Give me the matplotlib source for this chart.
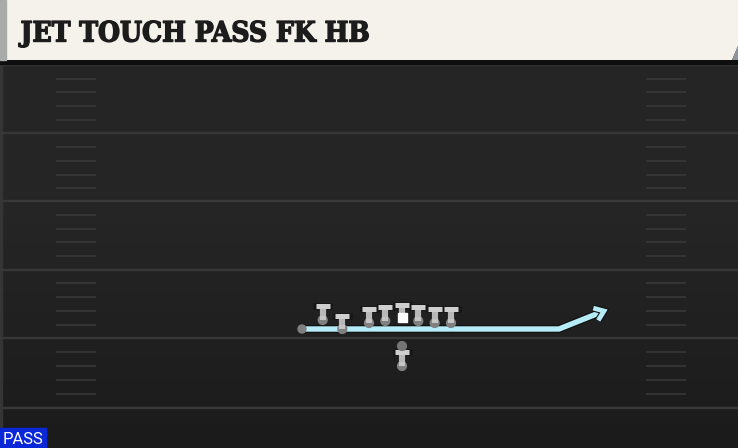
import numpy as np
import matplotlib
matplotlib.use('Agg')
import matplotlib.pyplot as plt
import matplotlib.patheffects as pe
from matplotlib.patches import Polygon, Rectangle, Circle

title = "JET TOUCH PASS FK HB"
badge = "PASS"

yard_lines = [65, 133, 201, 270, 338, 408]
hash_rows = [79, 92, 106, 120, 147, 161, 175, 188, 215, 229, 242, 256,
             283, 297, 311, 325, 352, 366, 380, 394]
hash_spans = [(56, 96), (646, 686)]

# players on the line: x, top of the T, foot of the T
player_x = [322.7, 342.3, 369, 385.3, 418.3, 434.7, 451]
player_top = [306.5, 316, 309, 307.3, 307, 309, 309]
player_foot = [320, 329, 323, 321, 321, 323, 323]

center = (402, 305, 318)
back = (402, 352.5, 366)
back_dot = (402, 346)

route_x = [302, 559, 604]
route_y = [329, 329, 311]

fig = plt.figure(figsize=(7.38, 4.48), dpi=100)
ax = fig.add_axes([0, 0, 1, 1])
ax.set_xlim(0, 738)
ax.set_ylim(448, 0)
ax.axis('off')

# field background gets a bit darker toward the bottom
grad = np.linspace(0, 1, 256).reshape(-1, 1)
ax.imshow(grad, cmap=matplotlib.colors.LinearSegmentedColormap.from_list('f', ['#262626', '#252525', '#1b1b1b']),
          extent=[0, 738, 448, 0], aspect='auto', zorder=0)
ax.add_patch(Rectangle((0, 0), 2, 448, color='#353535', zorder=1))

for y in yard_lines:
    ax.plot([0, 738], [y, y], color='#383838', lw=1.7, zorder=1, solid_capstyle='butt')
for x0, x1 in hash_spans:
    for y in hash_rows:
        ax.plot([x0, x1], [y, y], color='#383838', lw=1.2, zorder=1, solid_capstyle='butt')


def draw_t(x, top, foot, dot=True):
    if dot:
        ax.add_patch(Circle((x, foot), 4.4, color='#808080', zorder=5))
    # dark edge stops above the dot, the light stem runs into it
    ax.plot([x, x], [top, foot - 4], color='#171717', lw=5.6, zorder=5, solid_capstyle='butt')
    ax.plot([x - 6.5, x + 6.5], [top, top], color='#171717', lw=4.8, zorder=5, solid_capstyle='projecting')
    ax.plot([x - 7, x + 7], [top, top], color='#cfcfcf', lw=3.6, zorder=6, solid_capstyle='butt')
    ax.plot([x, x], [top, foot], color='#cfcfcf', lw=4.5, zorder=6, solid_capstyle='butt', alpha=0.88)


# route first, players sit over it
ax.plot(route_x, route_y, color='#b5ecf7', lw=3.9, zorder=3, solid_joinstyle='miter',
        solid_capstyle='butt', path_effects=[pe.withStroke(linewidth=5.6, foreground='#111111')])
ang = np.arctan2(route_y[2] - route_y[1], route_x[2] - route_x[1])
head_x = []
head_y = []
for da in (2.5, 0, -2.5):
    r = 0 if da == 0 else 11
    head_x.append(route_x[2] + r * np.cos(ang + da))
    head_y.append(route_y[2] + r * np.sin(ang + da))
ax.plot(head_x, head_y, color='#b5ecf7', lw=3.4, zorder=3, solid_joinstyle='miter', solid_capstyle='butt',
        path_effects=[pe.withStroke(linewidth=5, foreground='#111111')])
ax.add_patch(Circle((route_x[0], route_y[0]), 4, color='#808080', zorder=4))

for x, top, foot in zip(player_x, player_top, player_foot):
    draw_t(x, top, foot)

draw_t(center[0], center[1], center[2], dot=False)
ax.add_patch(Rectangle((center[0] - 4.5, center[2] - 4.5), 9, 9, color='white', zorder=7))
draw_t(back[0], back[1], back[2])
ax.add_patch(Circle(back_dot, 4.4, color='#757575', zorder=6))

# header card
ax.add_patch(Rectangle((0, 58), 738, 6, color='#0e0e0e', zorder=7))
ax.add_patch(Polygon([(6, 0), (738, 0), (738, 46), (732, 60), (6, 60)], closed=True,
                     facecolor='#f5f2eb', edgecolor='none', zorder=8))
ax.add_patch(Polygon([(738, 46), (738, 60), (732, 60)], closed=True, facecolor='#8d949c', edgecolor='none', zorder=8))
ax.add_patch(Rectangle((0, 0), 6, 60, color='#a9abaa', zorder=8))
ax.text(20.5, 34, title, family='DejaVu Serif', stretch='condensed', weight='bold', fontsize=20.2, color='#1c1c1c',
        va='center', ha='left', zorder=9,
        path_effects=[pe.withStroke(linewidth=1.0, foreground='#1c1c1c')])

ax.add_patch(Rectangle((0, 428), 46, 20, color='#0a28d8', zorder=9))
ax.text(22.5, 439.5, badge, family='Roboto', fontsize=12, color='white', va='center', ha='center', zorder=10)

fig.savefig('out.png', dpi=100)
